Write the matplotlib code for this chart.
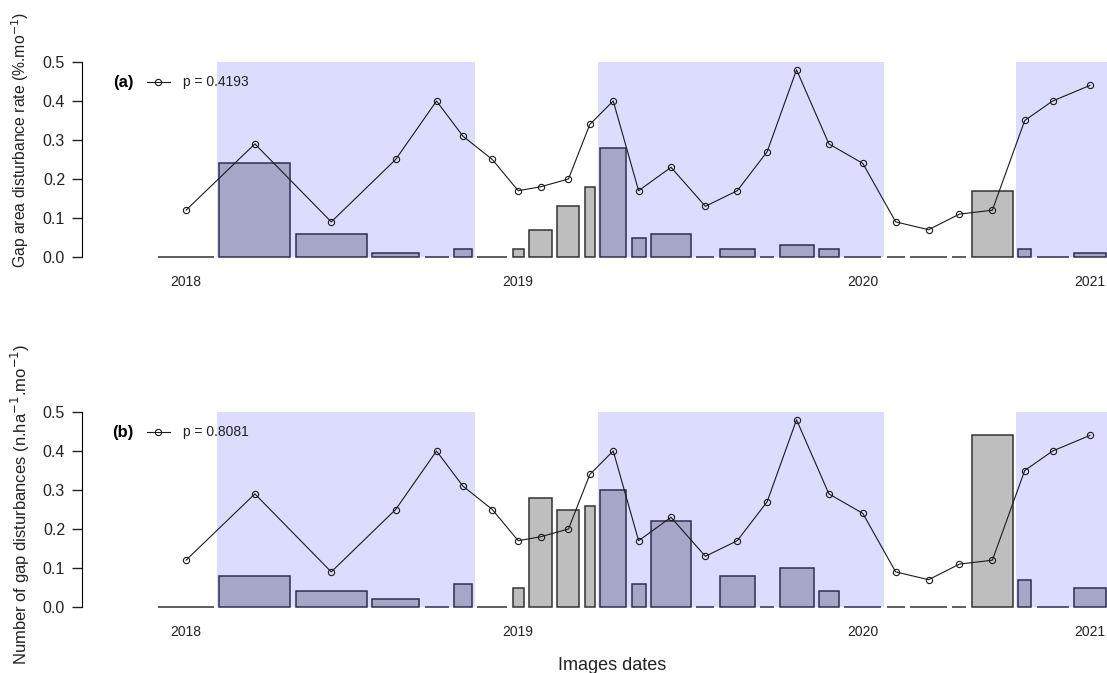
import numpy as np
import matplotlib.pyplot as plt

plt.rcParams['font.family'] = ['Liberation Sans', 'DejaVu Sans']

# relative interval between consecutive images (bar widths)
interval_width = [56, 71, 71, 47, 24, 18, 30, 11, 23, 22, 10, 26, 14, 40,
                  18, 35, 14, 34, 20, 37, 18, 37, 14, 41, 13, 32, 32]
season = ['dry', 'wet', 'wet', 'wet', 'wet', 'wet', 'dry', 'dry', 'dry',
          'dry', 'dry', 'wet', 'wet', 'wet', 'wet', 'wet', 'wet', 'wet',
          'wet', 'wet', 'dry', 'dry', 'dry', 'dry', 'wet', 'wet', 'wet']
# wet season spans (first bar, last bar)
wet_spans = [(1, 5), (11, 19), (24, 26)]

line_values = [0.12, 0.29, 0.09, 0.25, 0.40, 0.31, 0.25, 0.17, 0.18, 0.20,
               0.34, 0.40, 0.17, 0.23, 0.13, 0.17, 0.27, 0.48, 0.29, 0.24,
               0.09, 0.07, 0.11, 0.12, 0.35, 0.40, 0.44]
gap_area_rate = [0, 0.24, 0.06, 0.01, 0, 0.02, 0, 0.02, 0.07, 0.13, 0.18,
                 0.28, 0.05, 0.06, 0, 0.02, 0, 0.03, 0.02, 0, 0, 0, 0, 0.17,
                 0.02, 0, 0.01]
gap_number = [0, 0.08, 0.04, 0.02, 0, 0.06, 0, 0.05, 0.28, 0.25, 0.26, 0.30,
              0.06, 0.22, 0, 0.08, 0, 0.10, 0.04, 0, 0, 0, 0, 0.44, 0.07, 0,
              0.05]
year_labels = ['2018', '2019', '2020', '2021']
year_bar = [0, 7, 19, 26]

W, H = 1107, 673
fig = plt.figure(figsize=(W / 100, H / 100), dpi=100)


def px_axes(left, top, right, bottom):
    return fig.add_axes([left / W, 1 - bottom / H, (right - left) / W, (bottom - top) / H])


widths = np.array(interval_width, float)
gap = 0.18 * widths.mean()
rights = np.cumsum(widths + gap)
lefts = rights - widths
centers = lefts + widths / 2

panels = [
    (px_axes(82, 62, 1107, 257), gap_area_rate, '(a)', 'p = 0.4193',
     r'Gap area disturbance rate (%.mo$^{-1}$)', 140, 11.3),
    (px_axes(82, 412, 1107, 607), gap_number, '(b)', 'p = 0.8081',
     r'Number of gap disturbances (n.ha$^{-1}$.mo$^{-1}$)', 504, 12),
]

fill = ['#A6A6C8' if s == 'wet' else '#BEBEBE' for s in season]
edge = ['#2E2E50' if s == 'wet' else '#333333' for s in season]

for ax, vals, tag, ptxt, ylabel, ylab_y, ylab_size in panels:
    for a, b in wet_spans:
        ax.axvspan(lefts[a] - gap / 2, rights[b] + gap / 2, color='#DCDCFF', lw=0, zorder=0)
    ax.bar(centers, vals, width=widths, color=fill, edgecolor=edge,
           linewidth=1.1, clip_on=False, zorder=2)
    ax.plot(centers, line_values, '-o', color='#1a1a1a', lw=0.8, ms=4.5,
            mfc='none', mec='#1a1a1a', mew=0.8, zorder=3, clip_on=False)
    ax.set_xlim(lefts[0] - 76, rights[-1] + 1)
    ax.set_ylim(0, 0.5)
    for s in ['top', 'right', 'bottom']:
        ax.spines[s].set_visible(False)
    ax.spines['left'].set_bounds(0, 0.5)
    ticks = np.arange(0, 0.51, 0.1)
    ax.set_yticks(ticks)
    ax.set_yticklabels([f'{t:.1f}' for t in ticks])
    ax.tick_params(axis='y', length=7.2, width=1, labelsize=11.5, pad=5, colors='#222222')
    ax.set_xticks(centers[year_bar])
    ax.set_xticklabels(year_labels)
    ax.tick_params(axis='x', length=0, pad=13, labelsize=10, colors='#222222')

    # legend
    ax.text(0.040, 0.897, tag, transform=ax.transAxes, fontsize=12,
            fontweight='bold', ha='center', va='center')
    ax.plot([0.0634, 0.0859], [0.897, 0.897], '-', color='#1a1a1a', lw=0.8,
            transform=ax.transAxes, clip_on=False)
    ax.plot([0.0746], [0.897], 'o', ms=4.5, mfc='none', mec='#1a1a1a', mew=0.8,
            transform=ax.transAxes, clip_on=False)
    ax.text(0.0985, 0.897, ptxt, transform=ax.transAxes, fontsize=10,
            ha='left', va='center', color='#222222')

    fig.text(20 / W, 1 - ylab_y / H, ylabel, rotation=90, fontsize=ylab_size,
             ha='center', va='center', color='#222222')

fig.text(612 / W, 1 - 670 / H, 'Images dates', fontsize=13, ha='center',
         va='baseline', color='#222222')

fig.savefig('out.png', dpi=100)
